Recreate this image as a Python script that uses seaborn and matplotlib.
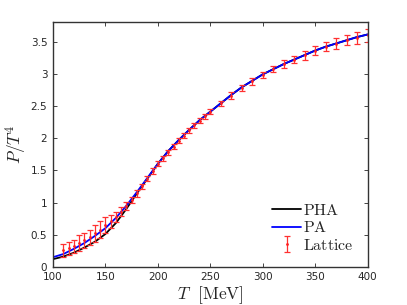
import numpy as np
import pandas as pd
import matplotlib
matplotlib.use('Agg')
import matplotlib.pyplot as plt
import seaborn as sns
from matplotlib.lines import Line2D

# model curves
T_curve = [100, 110, 120, 130, 140, 150, 160, 170, 180, 190, 200, 210, 220, 230,
           240, 250, 260, 270, 280, 290, 300, 310, 320, 330, 340, 350, 360, 370,
           380, 390, 400]
P_pa = [0.15, 0.20, 0.28, 0.37, 0.48, 0.60, 0.76, 0.95, 1.16, 1.38, 1.60, 1.80,
        1.97, 2.13, 2.28, 2.41, 2.54, 2.67, 2.79, 2.89, 2.99, 3.07, 3.15, 3.22,
        3.29, 3.36, 3.42, 3.47, 3.52, 3.57, 3.61]
P_pha = [0.12, 0.16, 0.22, 0.30, 0.39, 0.51, 0.68, 0.90, 1.14, 1.37, 1.60, 1.80,
         1.97, 2.13, 2.28, 2.41, 2.54, 2.67, 2.79, 2.89, 2.99, 3.07, 3.15, 3.22,
         3.29, 3.36, 3.42, 3.47, 3.52, 3.57, 3.61]

# lattice points
T_lat = [110, 115, 120, 125, 130, 135, 140, 145, 150, 155, 160, 165, 170, 175,
         180, 185, 190, 195, 200, 205, 210, 215, 220, 225, 230, 235, 240, 245,
         250, 260, 270, 280, 290, 300, 310, 320, 330, 340, 350, 360, 370, 380,
         390, 400]
P_lat = [0.26, 0.29, 0.32, 0.37, 0.41, 0.46, 0.52, 0.58, 0.65, 0.71, 0.78, 0.86,
         0.95, 1.04, 1.14, 1.25, 1.37, 1.49, 1.60, 1.69, 1.78, 1.87, 1.96, 2.04,
         2.12, 2.20, 2.27, 2.34, 2.41, 2.54, 2.66, 2.78, 2.88, 2.98, 3.07, 3.15,
         3.22, 3.29, 3.36, 3.42, 3.47, 3.52, 3.56, 3.60]
err_lat = [0.10, 0.10, 0.10, 0.12, 0.12, 0.12, 0.13, 0.13, 0.12, 0.10, 0.08, 0.07,
           0.06, 0.05, 0.05, 0.04, 0.04, 0.04, 0.04, 0.04, 0.04, 0.04, 0.04, 0.04,
           0.04, 0.04, 0.04, 0.04, 0.04, 0.04, 0.05, 0.05, 0.05, 0.05, 0.05, 0.06,
           0.06, 0.07, 0.07, 0.07, 0.08, 0.08, 0.09, 0.10]

sns.set_style('ticks', {'axes.spines.top': True, 'axes.spines.right': True})
plt.rcParams['mathtext.fontset'] = 'cm'
plt.rcParams['font.family'] = ['DejaVu Sans']

curves = pd.DataFrame({'T': T_curve * 2,
                       'P': P_pha + P_pa,
                       'model': ['PHA'] * len(T_curve) + ['PA'] * len(T_curve)})

fig = plt.figure(figsize=(4.07, 3.05), dpi=100)
ax = fig.add_axes([0.130, 0.125, 0.773, 0.802])

sns.lineplot(data=curves, x='T', y='P', hue='model',
             palette={'PHA': 'black', 'PA': 'blue'},
             linewidth=1.3, ax=ax, legend=False, zorder=2)
eb = ax.errorbar(T_lat, P_lat, yerr=err_lat, fmt='.', color='#ff2020', ecolor='#ff3030',
                 markersize=2, elinewidth=0.9, capsize=2.5, capthick=0.9, zorder=3)

h1 = Line2D([], [], color='black', linewidth=1.3)
h2 = Line2D([], [], color='blue', linewidth=1.3)
ax.legend([h1, h2, eb], [r'$\mathrm{PHA}$', r'$\mathrm{PA}$', r'$\mathrm{Lattice}$'],
          loc='lower right', frameon=False, fontsize=11.5, handlelength=1.8,
          handletextpad=0.1, labelspacing=0.15, borderaxespad=0.5)

ax.set_xlim(100, 400)
ax.set_ylim(0, 3.8)
ax.set_xticks(np.arange(100, 401, 50))
ax.set_yticks([0, 0.5, 1, 1.5, 2, 2.5, 3, 3.5])
ax.set_yticklabels(['0', '0.5', '1', '1.5', '2', '2.5', '3', '3.5'])
ax.tick_params(direction='in', top=True, right=True, length=3, width=0.7,
               color='#444444', labelsize=7.5, labelcolor='#262626', pad=4)
for s in ax.spines.values():
    s.set_visible(True)
    s.set_linewidth(1.0)
    s.set_color('#333333')
    s.set_zorder(5)
ax.set_xlabel(r'$T\ \ \mathrm{[MeV]}$', fontsize=12.5, labelpad=1)
ax.set_ylabel(r'$P/T^4$', fontsize=12.5, labelpad=1)

fig.savefig('out.png', dpi=100)
